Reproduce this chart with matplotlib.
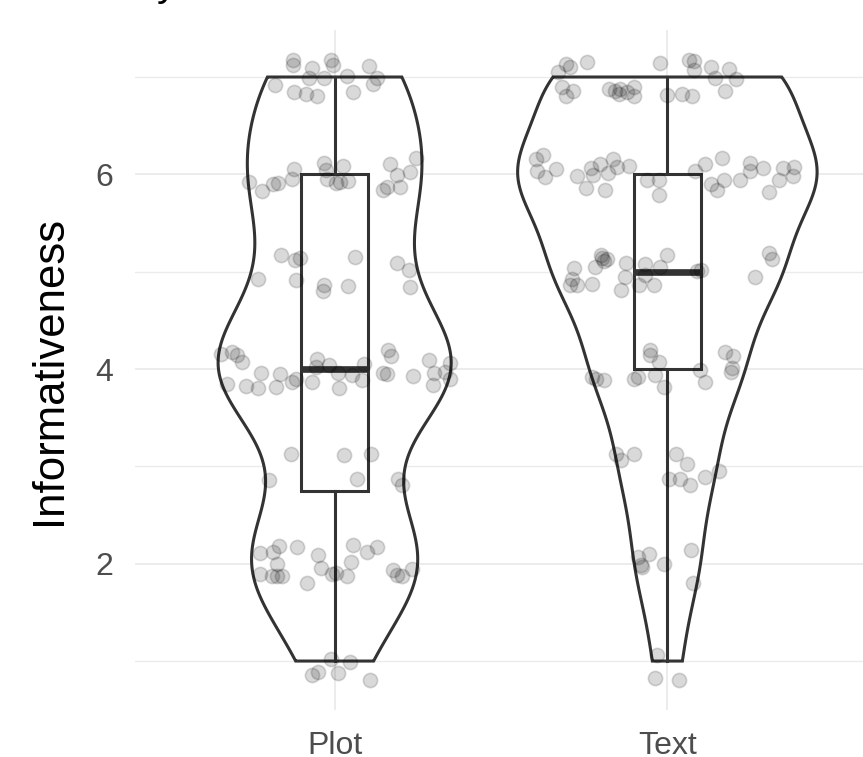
import numpy as np
import matplotlib.pyplot as plt

plt.rcParams['font.family'] = ['Liberation Sans', 'DejaVu Sans']

groups = ['Plot', 'Text']

# jittered ratings (y) and horizontal jitter (category units)
plot_y = [7.17, 7.12, 7.09, 7.17, 7.12, 7.11, 6.99, 6.99, 7.01, 6.99, 6.92, 6.85, 6.83, 6.80, 6.85, 6.93,
          6.17, 6.11, 6.12, 6.09, 6.05, 6.04, 5.99, 6.02, 5.92, 5.83, 5.90, 5.91, 5.95, 5.95, 5.91, 5.92,
          5.93, 5.84, 5.87, 5.87,
          5.17, 5.12, 5.14, 5.15, 5.09, 5.02, 4.92, 4.91, 4.86, 4.80, 4.85, 4.84,
          4.15, 4.17, 4.14, 4.07, 3.85, 3.83, 3.81, 3.96, 3.82, 3.95, 3.87, 3.90, 3.87, 4.10, 4.02, 4.04,
          3.96, 3.80, 3.94, 4.05, 3.89, 3.96, 3.95, 4.20, 4.13, 3.93, 4.09, 3.96, 3.84, 3.97, 4.06, 3.90,
          3.13, 3.12, 3.13, 2.86, 2.87, 2.87, 2.81,
          2.11, 2.12, 2.18, 2.17, 2.00, 2.09, 1.96, 2.19, 2.02, 2.12, 2.17, 1.89, 1.87, 1.87, 1.87, 1.80,
          1.89, 1.90, 1.87, 1.94, 1.88, 1.87, 1.95,
          1.02, 0.99, 0.86, 0.89, 0.88, 0.81]
plot_dx = [-0.124, -0.124, -0.067, -0.012, -0.004, 0.103, -0.077, -0.032, 0.038, 0.128, -0.180, -0.122,
           -0.087, -0.052, 0.056, 0.116,
           0.246, 0.165, -0.032, 0.026, -0.121, -0.027, 0.188, 0.226, -0.257, -0.219, -0.184, -0.170,
           -0.127, -0.022, 0.003, 0.016, 0.040, 0.146, 0.156, 0.196,
           -0.162, -0.120, -0.104, 0.060, 0.188, 0.223, -0.230, -0.117, -0.032, -0.034, 0.040, 0.226,
           -0.342, -0.307, -0.292, -0.277, -0.324, -0.267, -0.230, -0.220, -0.177, -0.164, -0.127, -0.117,
           -0.067, -0.052, -0.057, -0.017, 0.010, 0.013, 0.053, 0.088, 0.083, 0.146, 0.158, 0.160, 0.168,
           0.236, 0.283, 0.298, 0.296, 0.333, 0.346, 0.348,
           -0.130, 0.028, 0.108, -0.197, 0.068, 0.190, 0.203,
           -0.224, -0.184, -0.167, -0.112, -0.174, -0.050, -0.040, 0.056, 0.048, 0.098, 0.128, -0.224,
           -0.187, -0.172, -0.157, -0.084, -0.007, 0.003, 0.036, 0.176, 0.188, 0.201, 0.233,
           -0.012, 0.046, -0.067, -0.050, 0.010, 0.106]

text_y = [7.05, 7.13, 7.10, 7.15, 7.14, 7.17, 7.16, 7.07, 7.10, 7.08, 6.99, 6.98, 6.86, 6.90, 6.81, 6.86,
          6.88, 6.86, 6.83, 6.88, 6.85, 6.90, 6.80, 6.82, 6.83, 6.81,
          6.16, 6.20, 6.03, 5.97, 6.05, 5.98, 5.86, 6.07, 5.99, 6.11, 5.84, 6.01, 6.16, 6.08, 6.09, 5.94,
          5.94, 5.79, 6.03, 6.11, 6.17, 5.90, 5.84, 5.94, 5.94, 6.12, 6.03, 6.07, 5.82, 6.07, 5.94, 6.08,
          5.98,
          5.04, 4.93, 4.86, 4.86, 4.87, 5.05, 5.17, 5.11, 5.13, 5.09, 4.95, 4.81, 5.08, 4.97, 4.86, 4.86,
          5.05, 5.17, 5.01, 5.02, 5.19, 5.13, 4.95, 5.14,
          3.92, 3.90, 3.89, 3.90, 3.92, 4.20, 4.14, 4.07, 3.94, 3.82, 3.99, 3.87, 4.18, 4.13, 4.01, 3.97,
          3.13, 3.07, 3.13, 3.13, 3.02, 2.87, 2.87, 2.81, 2.89, 2.95,
          2.07, 1.99, 1.97, 2.10, 2.00, 2.14, 1.80,
          1.06, 0.83, 0.81]
text_dx = [-0.328, -0.306, -0.294, -0.241, -0.021, 0.064, 0.079, 0.079, 0.132, 0.184, 0.144, 0.206, 0.172,
           -0.316, -0.306, -0.284, -0.174, -0.158, -0.146, -0.141, -0.121, -0.101, -0.101, -0.001, 0.044,
           0.074,
           -0.396, -0.374, -0.391, -0.368, -0.336, -0.271, -0.246, -0.231, -0.224, -0.201, -0.188, -0.178,
           -0.164, -0.151, -0.116, -0.061, -0.026, -0.026, 0.082, 0.114, 0.164, 0.132, 0.149, 0.169, 0.219,
           0.249, 0.249, 0.286, 0.304, 0.349, 0.336, 0.382, 0.379,
           -0.281, -0.286, -0.293, -0.271, -0.226, -0.216, -0.199, -0.191, -0.181, -0.123, -0.126, -0.139,
           -0.066, -0.066, -0.086, -0.041, -0.023, -0.001, 0.089, 0.101, 0.304, 0.314, 0.264, -0.195,
           -0.226, -0.213, -0.189, -0.101, -0.089, -0.051, -0.051, -0.026, -0.036, -0.009, 0.099, 0.114,
           0.174, 0.197, 0.194, 0.191,
           -0.153, -0.139, -0.101, 0.027, 0.059, 0.004, 0.039, 0.067, 0.114, 0.154,
           -0.089, -0.079, -0.076, -0.056, -0.011, 0.071, 0.077,
           -0.031, -0.036, 0.034]

ys = [np.array(plot_y), np.array(text_y)]
dxs = [np.array(plot_dx), np.array(text_dx)]
ratings = [np.rint(y) for y in ys]
line_col = '#333333'


def bw_nrd0(x):
    q75, q25 = np.percentile(x, [75, 25])
    lo = min(np.std(x, ddof=1), (q75 - q25) / 1.34)
    return 0.9 * lo * len(x) ** -0.2


# violin densities (gaussian kernel, trimmed to data range)
grids, dens = [], []
for r in ratings:
    bw = bw_nrd0(r)
    g = np.linspace(r.min(), r.max(), 512)
    d = np.exp(-0.5 * ((g[:, None] - r[None, :]) / bw) ** 2).sum(axis=1) / (len(r) * bw * np.sqrt(2 * np.pi))
    grids.append(g)
    dens.append(d)
dmax = max(d.max() for d in dens)

fig = plt.figure(figsize=(8.63, 7.57), dpi=100)
ax = fig.add_axes([135 / 863, 47 / 757, 732 / 863, 680 / 757])

for i, (g, d) in enumerate(zip(grids, dens)):
    pos = i + 1
    half = 0.45 * d / dmax
    ax.fill(np.concatenate([pos - half, (pos + half)[::-1]]), np.concatenate([g, g[::-1]]),
            facecolor='white', edgecolor=line_col, linewidth=2.2, zorder=2)

ax.boxplot(ratings, positions=[1, 2], widths=0.2, patch_artist=True, showfliers=False,
           showcaps=False, manage_ticks=False,
           boxprops=dict(facecolor='white', edgecolor=line_col, linewidth=2.2),
           whiskerprops=dict(color=line_col, linewidth=2.2),
           medianprops=dict(color=line_col, linewidth=4.8, solid_capstyle='butt'),
           zorder=3)

for i in range(2):
    ax.scatter(i + 1 + dxs[i], ys[i], s=105, color='black', alpha=0.15, linewidths=1.2, zorder=4)

ax.set_xlim(0.4, 2.6)
ax.set_ylim(0.497, 7.483)
ax.set_xticks([1, 2], groups)
ax.set_yticks([2, 4, 6])
ax.set_yticks([1, 3, 5, 7], minor=True)
ax.grid(which='major', color='#ebebeb', linewidth=1.3)
ax.grid(which='minor', axis='y', color='#ebebeb', linewidth=1.0)
ax.set_axisbelow(True)
for s in ax.spines.values():
    s.set_visible(False)
ax.tick_params(which='both', length=0, labelsize=23, labelcolor='#4d4d4d')
ax.tick_params(axis='y', pad=16)
ax.tick_params(axis='x', pad=15)
ax.set_ylabel('Informativeness', fontsize=31.5, color='black', va='center')
ax.yaxis.set_label_coords(-85 / 732, 0.5)

# edge of the title, cut off by the crop
fig.text(157 / 863, 1 + 4 / 757, 'y', fontsize=29, color='black', va='baseline', ha='left')

fig.savefig('out.png', dpi=100)
